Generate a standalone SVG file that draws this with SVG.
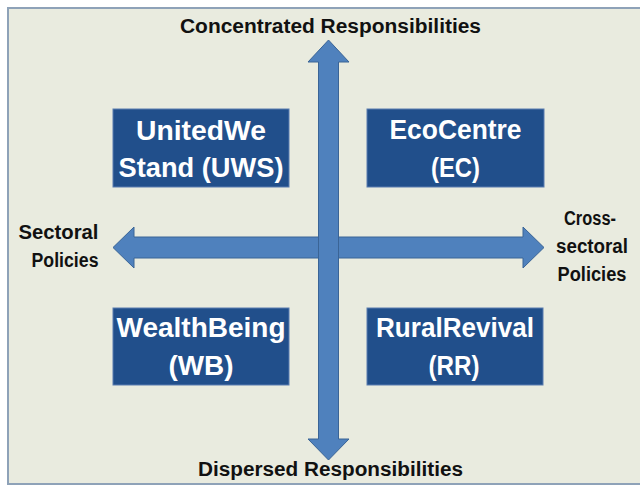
<svg xmlns="http://www.w3.org/2000/svg" width="640" height="486" viewBox="0 0 640 486">
  <style>
    .frame { fill: #e9ebdf; stroke: #8ea2b8; stroke-width: 2; }
    .arrow { fill: #4f81bd; stroke: #3a6496; stroke-width: 1; }
    .box { fill: #214f8b; stroke: #5a7db0; stroke-width: 1; }
    .boxtxt { font-family: "Liberation Sans", Arial, sans-serif; font-weight: bold; font-size: 27px; fill: #ffffff; text-anchor: middle; }
    .axis { font-family: "Liberation Sans", Arial, sans-serif; font-weight: bold; font-size: 20px; fill: #111111; }
  </style>
  <rect class="frame" x="8" y="8" width="640" height="476"/>

  <g id="connectors">
    <polygon id="arrow-horizontal" class="arrow" points="113,247.5 134,227 134,237 523,237 523,227 544,247.5 523,268 523,258 134,258 134,268"/>
    <polygon id="arrow-vertical" class="arrow" points="328.5,40 349,62 338.5,62 338.5,439 349,439 328.5,460 308,439 318.5,439 318.5,62 308,62"/>
  </g>

  <g id="label-top">
    <text class="axis" x="330.5" y="33" text-anchor="middle" textLength="301" lengthAdjust="spacingAndGlyphs">Concentrated Responsibilities</text>
  </g>
  <g id="label-bottom">
    <text class="axis" x="330.5" y="476" text-anchor="middle" textLength="265" lengthAdjust="spacingAndGlyphs">Dispersed Responsibilities</text>
  </g>
  <g id="label-left">
    <text class="axis" x="18.5" y="239" textLength="80" lengthAdjust="spacingAndGlyphs">Sectoral</text>
    <text class="axis" x="31.5" y="267" textLength="67" lengthAdjust="spacingAndGlyphs">Policies</text>
  </g>
  <g id="label-right">
    <text class="axis" x="590" y="225" text-anchor="middle" textLength="52" lengthAdjust="spacingAndGlyphs">Cross-</text>
    <text class="axis" x="592" y="253" text-anchor="middle" textLength="72" lengthAdjust="spacingAndGlyphs">sectoral</text>
    <text class="axis" x="592" y="281" text-anchor="middle" textLength="69" lengthAdjust="spacingAndGlyphs">Policies</text>
  </g>

  <g id="node-uws">
    <rect class="box" x="113" y="109" width="176" height="78"/>
    <text class="boxtxt" x="201" y="140" textLength="130" lengthAdjust="spacingAndGlyphs">UnitedWe</text>
    <text class="boxtxt" x="201" y="176.5" textLength="165" lengthAdjust="spacingAndGlyphs">Stand (UWS)</text>
  </g>
  <g id="node-ec">
    <rect class="box" x="367" y="109" width="177" height="78"/>
    <text class="boxtxt" x="455.5" y="138.5" textLength="132" lengthAdjust="spacingAndGlyphs">EcoCentre</text>
    <text class="boxtxt" x="455.5" y="176.5" textLength="49" lengthAdjust="spacingAndGlyphs">(EC)</text>
  </g>
  <g id="node-wb">
    <rect class="box" x="113" y="308" width="176" height="77"/>
    <text class="boxtxt" x="201" y="337" textLength="169" lengthAdjust="spacingAndGlyphs">WealthBeing</text>
    <text class="boxtxt" x="201" y="375" textLength="65" lengthAdjust="spacingAndGlyphs">(WB)</text>
  </g>
  <g id="node-rr">
    <rect class="box" x="367" y="308" width="176" height="77"/>
    <text class="boxtxt" x="455" y="337" textLength="158" lengthAdjust="spacingAndGlyphs">RuralRevival</text>
    <text class="boxtxt" x="454" y="375" textLength="51" lengthAdjust="spacingAndGlyphs">(RR)</text>
  </g>
</svg>
